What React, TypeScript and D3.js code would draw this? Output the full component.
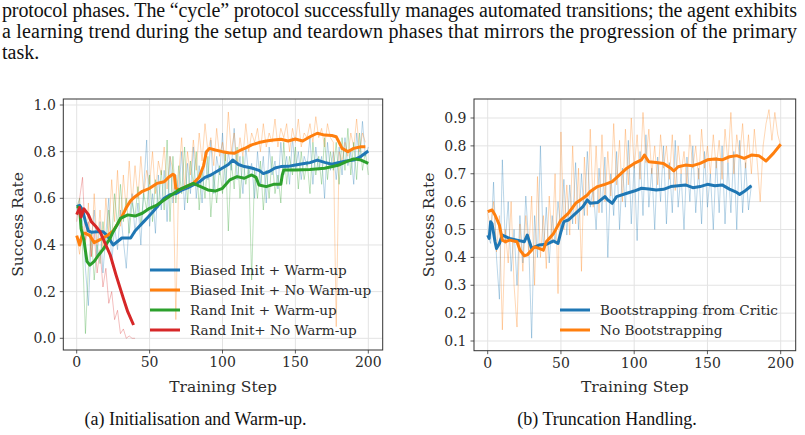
import * as d3 from "d3";

// ---- raw success rates, one value every 2 training steps ----
const biasedWarmRaw = [0.55, 0.57, 0.50, 0.30, 0.14, 0.42, 0.55, 0.35, 0.50, 0.28, 0.45, 0.60, 0.32, 0.48, 0.38, 0.55, 0.42, 0.30, 0.50, 0.62,
  0.45, 0.58, 0.40, 0.65, 0.85, 0.48, 0.62, 0.45, 0.70, 0.55, 0.72, 0.50, 0.78, 0.58, 0.70, 0.62, 0.80, 0.55, 0.75, 0.62,
  0.82, 0.60, 0.74, 0.58, 0.80, 0.68, 0.85, 0.62, 0.78, 0.70, 0.88, 0.66, 0.80, 0.72, 0.90, 0.68, 0.78, 0.62, 0.82, 0.70,
  0.75, 0.60, 0.80, 0.66, 0.78, 0.58, 0.82, 0.70, 0.76, 0.64, 0.84, 0.70, 0.78, 0.66, 0.86, 0.72, 0.80, 0.68, 0.78, 0.74,
  0.86, 0.66, 0.82, 0.72, 0.78, 0.60, 0.84, 0.72, 0.80, 0.68, 0.82, 0.70, 0.86, 0.74, 0.80, 0.66, 0.88, 0.76, 0.93, 0.78, 0.82];
const biasedNoWarmRaw = [0.44, 0.36, 0.48, 0.40, 0.58, 0.35, 0.62, 0.40, 0.55, 0.38, 0.60, 0.45, 0.68, 0.50, 0.72, 0.48, 0.70, 0.55, 0.76, 0.58,
  0.74, 0.60, 0.78, 0.62, 0.72, 0.66, 0.80, 0.62, 0.76, 0.70, 0.82, 0.64, 0.78, 0.72, 0.08, 0.70, 0.86, 0.64, 0.80, 0.70,
  0.85, 0.72, 0.88, 0.76, 0.92, 0.80, 0.86, 0.74, 0.90, 0.78, 0.84, 0.76, 0.97, 0.80, 0.88, 0.74, 0.86, 0.78, 0.92, 0.80,
  0.88, 0.84, 0.90, 0.80, 0.92, 0.82, 0.88, 0.84, 0.94, 0.82, 0.90, 0.86, 0.92, 0.80, 0.90, 0.84, 0.94, 0.82, 0.88, 0.86,
  0.92, 0.84, 0.95, 0.86, 0.90, 0.82, 0.92, 0.86, 0.84, 0.05, 0.80, 0.76, 0.84, 0.78, 0.88, 0.82, 0.94, 0.80, 0.88, 0.84];
const randWarmRaw = [0.56, 0.60, 0.38, 0.02, 0.30, 0.45, 0.25, 0.40, 0.32, 0.50, 0.38, 0.55, 0.42, 0.62, 0.48, 0.66, 0.50, 0.60, 0.45, 0.58,
  0.52, 0.65, 0.48, 0.62, 0.55, 0.70, 0.50, 0.68, 0.56, 0.72, 0.55, 0.85, 0.50, 0.78, 0.58, 0.74, 0.62, 0.82, 0.58, 0.76,
  0.66, 0.80, 0.55, 0.72, 0.60, 0.78, 0.52, 0.70, 0.58, 0.74, 0.62, 0.80, 0.46, 0.76, 0.64, 0.82, 0.60, 0.78, 0.66, 0.74,
  0.25, 0.72, 0.60, 0.76, 0.55, 0.72, 0.60, 0.78, 0.62, 0.70, 0.58, 0.84, 0.66, 0.78, 0.70, 0.82, 0.64, 0.80, 0.68, 0.76,
  0.62, 0.84, 0.70, 0.78, 0.66, 0.86, 0.68, 0.80, 0.72, 0.84, 0.66, 0.86, 0.72, 0.90, 0.70, 0.84, 0.68, 0.88, 0.72, 0.80, 0.70];
const randNoWarmRaw = [0.50, 0.60, 0.69, 0.42, 0.50, 0.35, 0.45, 0.28, 0.38, 0.22, 0.30, 0.15, 0.20, 0.08, 0.12, 0.02, 0.04, 0.00, 0.01, 0.00, 0.00];

const bootstrapRaw = [0.48, 0.45, 0.67, 0.40, 0.25, 0.75, 0.45, 0.60, 0.35, 0.50, 0.30, 0.55, 0.38, 0.62, 0.45, 0.11, 0.55, 0.40, 0.80, 0.42,
  0.58, 0.38, 0.55, 0.45, 0.60, 0.50, 0.68, 0.48, 0.66, 0.52, 0.74, 0.50, 0.70, 0.55, 0.78, 0.58, 0.65, 0.50, 0.72, 0.56,
  0.76, 0.40, 0.70, 0.55, 0.78, 0.50, 0.72, 0.58, 0.82, 0.52, 0.74, 0.46, 0.78, 0.55, 0.84, 0.58, 0.72, 0.50, 0.76, 0.60,
  0.80, 0.52, 0.74, 0.56, 0.82, 0.58, 0.70, 0.50, 0.76, 0.60, 0.80, 0.56, 0.72, 0.52, 0.78, 0.58, 0.70, 0.50, 0.76, 0.56,
  0.80, 0.52, 0.74, 0.56, 0.78, 0.50, 0.82, 0.56, 0.74, 0.57, 0.66];
const noBootstrapRaw = [0.56, 0.50, 0.60, 0.42, 0.55, 0.14, 0.50, 0.38, 0.60, 0.30, 0.15, 0.52, 0.35, 0.55, 0.42, 0.62, 0.30, 0.69, 0.40, 0.55,
  0.36, 0.62, 0.45, 0.70, 0.27, 0.85, 0.50, 0.66, 0.48, 0.80, 0.52, 0.72, 0.35, 0.76, 0.55, 0.86, 0.58, 0.80, 0.56, 0.84,
  0.60, 0.78, 0.62, 0.88, 0.66, 0.82, 0.60, 0.86, 0.66, 0.90, 0.72, 0.84, 0.68, 0.92, 0.74, 0.86, 0.70, 0.80, 0.66, 0.84,
  0.72, 0.80, 0.68, 0.84, 0.64, 0.80, 0.70, 0.78, 0.66, 0.84, 0.72, 0.80, 0.68, 0.86, 0.72, 0.80, 0.70, 0.84, 0.72, 0.82,
  0.68, 0.86, 0.74, 0.92, 0.70, 0.84, 0.76, 0.88, 0.72, 0.84, 0.70, 0.86, 0.74, 0.60, 0.80, 0.88, 0.93, 0.82, 0.92, 0.84, 0.80];

// ---- smoothed curves, [step, value] ----
const biasedWarmSmooth: [number, number][] = [[0, 0.564], [2, 0.57], [4, 0.55], [6, 0.5], [8, 0.46], [10, 0.455], [14, 0.457], [18, 0.457], [21, 0.44], [25, 0.4], [28, 0.415], [31, 0.43], [34, 0.43], [37, 0.43], [40, 0.46], [43, 0.48], [46, 0.5], [49, 0.52], [52, 0.54], [56, 0.57], [60, 0.6], [64, 0.615], [68, 0.62], [72, 0.635], [76, 0.645], [80, 0.657], [84, 0.67], [88, 0.69], [92, 0.7], [96, 0.715], [100, 0.73], [104, 0.745], [107, 0.764], [111, 0.745], [115, 0.736], [120, 0.73], [125, 0.72], [128, 0.706], [132, 0.715], [136, 0.73], [140, 0.736], [145, 0.737], [150, 0.743], [155, 0.748], [160, 0.753], [165, 0.764], [170, 0.754], [175, 0.746], [180, 0.754], [185, 0.76], [190, 0.764], [195, 0.78], [200, 0.803]];
const biasedNoWarmSmooth: [number, number][] = [[0, 0.44], [2, 0.4], [4, 0.45], [6, 0.45], [9, 0.44], [12, 0.41], [15, 0.42], [18, 0.43], [21, 0.44], [25, 0.46], [28, 0.49], [31, 0.52], [34, 0.56], [37, 0.59], [40, 0.607], [45, 0.63], [50, 0.643], [55, 0.664], [60, 0.671], [63, 0.69], [66, 0.703], [67, 0.7], [68, 0.643], [70, 0.636], [75, 0.65], [80, 0.664], [84, 0.69], [87, 0.74], [89, 0.8], [91, 0.814], [95, 0.807], [100, 0.8], [104, 0.795], [108, 0.793], [112, 0.805], [116, 0.816], [120, 0.829], [125, 0.839], [130, 0.846], [135, 0.85], [140, 0.853], [145, 0.846], [150, 0.854], [155, 0.846], [160, 0.864], [165, 0.879], [170, 0.871], [175, 0.869], [178, 0.864], [180, 0.84], [182, 0.814], [186, 0.8], [190, 0.814], [195, 0.821], [198, 0.821]];
const randWarmSmooth: [number, number][] = [[0, 0.564], [2, 0.56], [3, 0.47], [5, 0.42], [7, 0.33], [9, 0.314], [12, 0.33], [15, 0.357], [18, 0.38], [20, 0.4], [23, 0.43], [25, 0.457], [28, 0.49], [30, 0.514], [35, 0.529], [40, 0.524], [45, 0.536], [50, 0.557], [55, 0.571], [60, 0.593], [65, 0.614], [70, 0.636], [75, 0.65], [80, 0.664], [85, 0.65], [90, 0.636], [95, 0.631], [100, 0.643], [105, 0.679], [110, 0.693], [115, 0.686], [120, 0.7], [123, 0.69], [125, 0.657], [130, 0.65], [135, 0.66], [140, 0.66], [141, 0.7], [142, 0.721], [150, 0.721], [160, 0.724], [170, 0.729], [180, 0.743], [185, 0.757], [190, 0.769], [195, 0.764], [200, 0.75]];
const randNoWarmSmooth: [number, number][] = [[0, 0.53], [2, 0.56], [3, 0.52], [5, 0.555], [8, 0.53], [10, 0.5], [13, 0.48], [16, 0.457], [20, 0.4], [23, 0.357], [27, 0.271], [32, 0.171], [35, 0.114], [39, 0.057]];

const bootstrapSmooth: [number, number][] = [[0, 0.48], [1, 0.468], [2, 0.528], [3, 0.52], [5, 0.456], [6, 0.432], [8, 0.45], [10, 0.48], [15, 0.468], [20, 0.462], [25, 0.456], [27, 0.48], [30, 0.432], [35, 0.444], [40, 0.447], [45, 0.459], [48, 0.45], [50, 0.492], [52, 0.528], [55, 0.534], [60, 0.558], [65, 0.582], [68, 0.606], [70, 0.594], [75, 0.597], [80, 0.618], [82, 0.606], [85, 0.594], [88, 0.618], [95, 0.63], [100, 0.638], [105, 0.648], [110, 0.645], [115, 0.642], [120, 0.644], [125, 0.654], [130, 0.657], [135, 0.66], [140, 0.65], [145, 0.654], [150, 0.662], [155, 0.657], [160, 0.66], [165, 0.645], [170, 0.633], [172, 0.626], [175, 0.636], [180, 0.657]];
const noBootstrapSmooth: [number, number][] = [[0, 0.564], [3, 0.57], [5, 0.552], [8, 0.516], [10, 0.462], [12, 0.456], [15, 0.462], [20, 0.456], [22, 0.426], [25, 0.406], [27, 0.409], [30, 0.426], [32, 0.438], [35, 0.432], [38, 0.426], [40, 0.456], [45, 0.486], [50, 0.534], [55, 0.558], [60, 0.594], [65, 0.612], [68, 0.624], [70, 0.636], [75, 0.654], [80, 0.662], [85, 0.672], [90, 0.696], [95, 0.72], [100, 0.737], [105, 0.75], [107, 0.767], [110, 0.743], [115, 0.74], [120, 0.737], [125, 0.72], [127, 0.71], [130, 0.725], [135, 0.731], [140, 0.729], [145, 0.737], [150, 0.75], [155, 0.753], [160, 0.75], [165, 0.761], [170, 0.765], [175, 0.755], [180, 0.767], [185, 0.765], [190, 0.746], [195, 0.773], [200, 0.806]];

const xTicks = [0, 50, 100, 150, 200];
const leftYTicks = [0, 0.2, 0.4, 0.6, 0.8, 1.0];
const rightYTicks = [0.1, 0.2, 0.3, 0.4, 0.5, 0.6, 0.7, 0.8, 0.9];

const BLUE = "#1f77b4", ORANGE = "#ff7f0e", GREEN = "#2ca02c", RED = "#d62728";
const CHART_FONT = "'DejaVu Serif', serif";
const PAPER_FONT = "'Liberation Serif', 'Times New Roman', serif";
const INK = "#2b2b2b";

interface Series {
  label: string;
  color: string;
  raw: number[];
  smooth: [number, number][];
}

const leftSeries: Series[] = [
  { label: "Biased Init + Warm-up", color: BLUE, raw: biasedWarmRaw, smooth: biasedWarmSmooth },
  { label: "Biased Init + No Warm-up", color: ORANGE, raw: biasedNoWarmRaw, smooth: biasedNoWarmSmooth },
  { label: "Rand Init + Warm-up", color: GREEN, raw: randWarmRaw, smooth: randWarmSmooth },
  { label: "Rand Init+ No Warm-up", color: RED, raw: randNoWarmRaw, smooth: randNoWarmSmooth },
];
const rightSeries: Series[] = [
  { label: "Bootstrapping from Critic", color: BLUE, raw: bootstrapRaw, smooth: bootstrapSmooth },
  { label: "No Bootstrapping", color: ORANGE, raw: noBootstrapRaw, smooth: noBootstrapSmooth },
];

interface PanelProps {
  id: string;
  frame: { left: number; right: number; top: number; bottom: number };
  xRange: [number, number];
  yDomain: [number, number];
  yRange: [number, number];
  yTicks: number[];
  series: Series[];
  legendX: number;
  legendY: number;
}

const Panel: React.FC<PanelProps> = ({ id, frame, xRange, yDomain, yRange, yTicks, series, legendX, legendY }) => {
  const x = d3.scaleLinear().domain([0, 200]).range(xRange);
  const y = d3.scaleLinear().domain(yDomain).range(yRange);
  const rawLine = d3.line<number>().x((_, i) => x(i * 2)).y((d) => y(d));
  const smoothLine = d3.line<[number, number]>().x((d) => x(d[0])).y((d) => y(d[1]));
  const midY = (frame.top + frame.bottom) / 2;
  const midX = (frame.left + frame.right) / 2;
  const fmt = d3.format(".1f");

  return (
    <g>
      <defs>
        <clipPath id={id}>
          <rect x={frame.left} y={frame.top} width={frame.right - frame.left} height={frame.bottom - frame.top} />
        </clipPath>
      </defs>
      {/* grid */}
      {xTicks.map((t) => (
        <line key={`gx${t}`} x1={x(t)} x2={x(t)} y1={frame.top} y2={frame.bottom} stroke="#e3e3e3" strokeWidth={1} />
      ))}
      {yTicks.map((t) => (
        <line key={`gy${t}`} x1={frame.left} x2={frame.right} y1={y(t)} y2={y(t)} stroke="#e3e3e3" strokeWidth={1} />
      ))}
      <g clipPath={`url(#${id})`}>
        {series.map((s) => (
          <path key={`r${s.label}`} d={rawLine(s.raw) ?? ""} fill="none" stroke={s.color} strokeOpacity={0.3} strokeWidth={1} />
        ))}
        {series.map((s) => (
          <path key={`s${s.label}`} d={smoothLine(s.smooth) ?? ""} fill="none" stroke={s.color} strokeWidth={3} strokeLinejoin="round" />
        ))}
      </g>
      <rect x={frame.left} y={frame.top} width={frame.right - frame.left} height={frame.bottom - frame.top}
        fill="none" stroke="#333" strokeWidth={1} />
      {/* x axis */}
      {xTicks.map((t) => (
        <g key={`tx${t}`}>
          <line x1={x(t)} x2={x(t)} y1={frame.bottom} y2={frame.bottom + 3.5} stroke="#333" strokeWidth={0.8} />
          <text x={x(t)} y={frame.bottom + 17} textAnchor="middle" fontSize={14} fill={INK}>{t}</text>
        </g>
      ))}
      {yTicks.map((t) => (
        <g key={`ty${t}`}>
          <line x1={frame.left - 3.5} x2={frame.left} y1={y(t)} y2={y(t)} stroke="#333" strokeWidth={0.8} />
          <text x={frame.left - 7.5} y={y(t)} dy="0.36em" textAnchor="end" fontSize={14} fill={INK}>{fmt(t)}</text>
        </g>
      ))}
      <text x={midX} y={frame.bottom + 41.5} textAnchor="middle" fontSize={15.5} fill={INK}>Training Step</text>
      <text transform={`translate(${frame.left - 45.5},${midY}) rotate(-90)`} dy="0.36em" textAnchor="middle" fontSize={15.5} fill={INK}>Success Rate</text>
      {/* legend */}
      {series.map((s, i) => (
        <g key={`lg${s.label}`} transform={`translate(${legendX},${legendY + i * 20})`}>
          <line x1={0} x2={30} y1={0} y2={0} stroke={s.color} strokeWidth={3} />
          <text x={40} y={0} dy="0.36em" fontSize={13.6} fill={INK}>{s.label}</text>
        </g>
      ))}
    </g>
  );
};

export default function App() {
  return (
    <svg width={805} height={435} style={{ position: "absolute", left: 0, top: 0, background: "#fff" }}>
      <g fontFamily={PAPER_FONT} fontSize={20} fill="#111">
        <text x={2} y={17} textLength={795} lengthAdjust="spacing">protocol phases. The “cycle” protocol successfully manages automated transitions; the agent exhibits</text>
        <text x={2} y={38} textLength={795} lengthAdjust="spacing">a learning trend during the setup and teardown phases that mirrors the progression of the primary</text>
        <text x={2} y={59}>task.</text>
      </g>
      <g fontFamily={CHART_FONT}>
        <Panel id="clipA" frame={{ left: 63.3, right: 382.7, top: 99, bottom: 350 }}
          xRange={[76.7, 368.3]} yDomain={[0, 1]} yRange={[338.3, 105]} yTicks={leftYTicks}
          series={leftSeries} legendX={150} legendY={270} />
        <Panel id="clipB" frame={{ left: 474, right: 795.7, top: 99, bottom: 350.7 }}
          xRange={[487.7, 780.7]} yDomain={[0.1, 0.9]} yRange={[341, 118]} yTicks={rightYTicks}
          series={rightSeries} legendX={560} legendY={310} />
      </g>
      <g fontFamily={PAPER_FONT} fontSize={18} fill="#111" textAnchor="middle">
        <text x={195.5} y={425}>(a) Initialisation and Warm-up.</text>
        <text x={607} y={425}>(b) Truncation Handling.</text>
      </g>
    </svg>
  );
}
